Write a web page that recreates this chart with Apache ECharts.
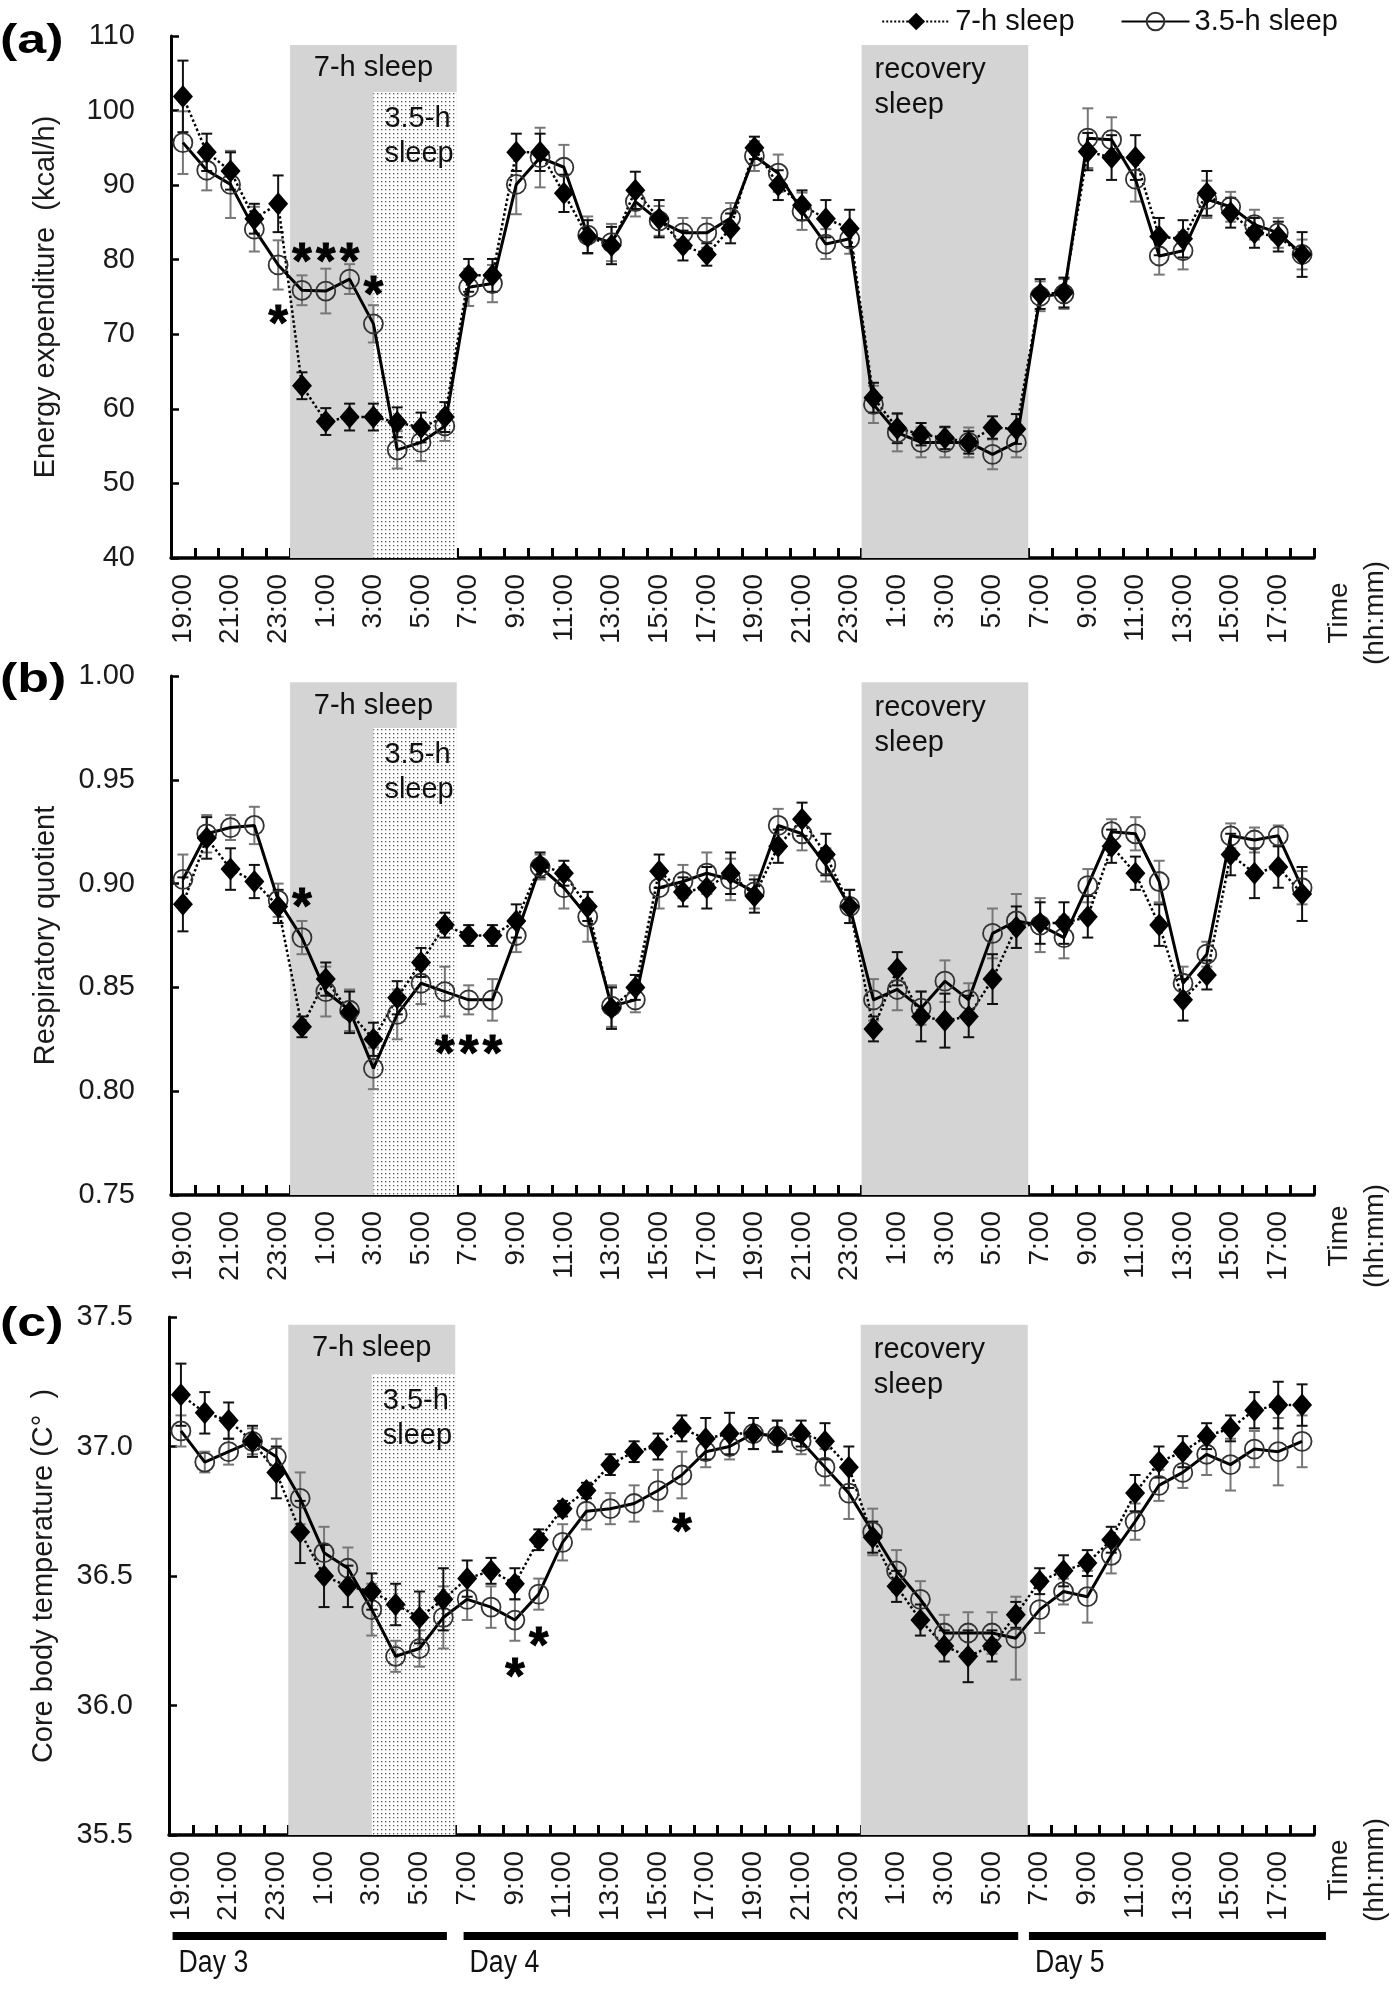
<!DOCTYPE html>
<html>
<head>
<meta charset="utf-8">
<script src="https://cdn.jsdelivr.net/npm/echarts@6/dist/echarts.min.js"></script>
<style>
  html, body { margin: 0; padding: 0; background: #fff; }
  #main { width: 1395px; height: 1990px; }
</style>
</head>
<body>
<div id="main"></div>
<script>
// hourly time points, 19:00 day 3 -> 18:00 day 5
const HOURS = ['19:00','20:00','21:00','22:00','23:00','0:00','1:00','2:00','3:00','4:00','5:00','6:00',
  '7:00','8:00','9:00','10:00','11:00','12:00','13:00','14:00','15:00','16:00','17:00','18:00',
  '19:00','20:00','21:00','22:00','23:00','0:00','1:00','2:00','3:00','4:00','5:00','6:00',
  '7:00','8:00','9:00','10:00','11:00','12:00','13:00','14:00','15:00','16:00','17:00','18:00'];

// (a) energy expenditure, kcal/h
const EE_7H = [101.9, 94.4, 91.9, 85.5, 87.5, 63.1, 58.3, 58.9, 58.9, 58.2, 57.5, 58.9,
  77.9, 77.9, 94.4, 94.4, 88.9, 83.1, 81.9, 89.3, 85.5, 81.9, 80.7, 84.2,
  95.0, 90.0, 87.3, 85.5, 84.2, 61.5, 57.4, 56.6, 56.1, 55.5, 57.5, 57.3,
  75.4, 75.6, 94.5, 93.7, 93.7, 83.1, 82.8, 88.9, 86.3, 83.6, 83.1, 80.7];
const EE_7H_SE = [4.8, 2.5, 2.5, 2, 3.8, 1.8, 1.8, 1.8, 1.8, 2, 2, 2,
  2.2, 2.2, 2.5, 2.5, 2.5, 2.2, 2.5, 2.5, 2.5, 2, 1.5, 2,
  1.5, 2, 2, 2.5, 2.5, 2, 2, 1.5, 1.5, 1.5, 1.5, 2,
  2, 2, 2.5, 3, 3, 2.5, 2.5, 3, 2, 2, 2, 3];
const EE_35H = [95.7, 92.0, 90.1, 84.1, 79.3, 75.9, 75.8, 77.4, 71.4, 54.5, 55.5, 57.7,
  76.3, 76.8, 90.1, 93.7, 92.4, 83.3, 82.3, 87.8, 85.2, 83.6, 83.6, 85.6,
  93.9, 91.6, 86.5, 82.1, 82.8, 60.6, 56.8, 55.5, 55.5, 55.5, 53.9, 55.5,
  75.1, 75.4, 96.3, 96.1, 90.8, 80.5, 81.2, 88.1, 87.1, 84.7, 83.6, 80.7];
const EE_35H_SE = [4.2, 2.7, 4.5, 3, 3.3, 2, 3, 2, 2.5, 2.5, 2.5, 2,
  2.5, 2.5, 4, 4, 3, 2.5, 2.5, 2, 2, 2, 2, 2,
  2, 2.5, 2.5, 2, 2, 2.5, 2.5, 2, 2, 2, 2, 2,
  2, 2, 4, 3, 3, 2.5, 2.5, 2.5, 2, 2, 2, 2];
const EE_STARS = [[4, 72.8], [5, 81.2], [6, 81.2], [7, 81.2], [8, 76.7]];

// (b) respiratory quotient
const RQ_7H = [0.890, 0.922, 0.907, 0.901, 0.889, 0.831, 0.854, 0.838, 0.825, 0.845, 0.862, 0.880,
  0.875, 0.875, 0.882, 0.909, 0.905, 0.889, 0.840, 0.850, 0.906, 0.896, 0.898, 0.905,
  0.894, 0.918, 0.931, 0.914, 0.889, 0.830, 0.859, 0.836, 0.834, 0.836, 0.854, 0.879,
  0.881, 0.881, 0.884, 0.918, 0.905, 0.880, 0.844, 0.856, 0.914, 0.905, 0.908, 0.895];
const RQ_7H_SE = [0.013, 0.01, 0.01, 0.008, 0.008, 0.005, 0.008, 0.01, 0.008, 0.008, 0.007, 0.006,
  0.005, 0.005, 0.008, 0.006, 0.006, 0.007, 0.01, 0.006, 0.008, 0.007, 0.01, 0.01,
  0.008, 0.008, 0.008, 0.01, 0.008, 0.006, 0.008, 0.012, 0.013, 0.01, 0.012, 0.01,
  0.01, 0.01, 0.01, 0.008, 0.008, 0.01, 0.01, 0.007, 0.01, 0.012, 0.01, 0.013];
const RQ_35H = [0.902, 0.924, 0.927, 0.928, 0.892, 0.874, 0.848, 0.839, 0.811, 0.837, 0.852, 0.848,
  0.844, 0.844, 0.875, 0.908, 0.898, 0.884, 0.841, 0.844, 0.898, 0.901, 0.905, 0.902,
  0.896, 0.928, 0.924, 0.909, 0.889, 0.844, 0.849, 0.840, 0.853, 0.844, 0.876, 0.882,
  0.880, 0.874, 0.899, 0.925, 0.924, 0.901, 0.852, 0.866, 0.923, 0.921, 0.923, 0.898];
const RQ_35H_SE = [0.012, 0.009, 0.006, 0.009, 0.008, 0.008, 0.012, 0.01, 0.01, 0.012, 0.01, 0.012,
  0.007, 0.01, 0.008, 0.006, 0.01, 0.012, 0.01, 0.006, 0.01, 0.008, 0.01, 0.01,
  0.008, 0.008, 0.008, 0.008, 0.008, 0.01, 0.01, 0.008, 0.01, 0.008, 0.012, 0.013,
  0.013, 0.01, 0.008, 0.006, 0.008, 0.01, 0.008, 0.006, 0.006, 0.006, 0.005, 0.008];
const RQ_STARS = [[5, 0.894], [11, 0.823], [12, 0.823], [13, 0.823]];

// (c) core body temperature
const CBT_7H = [37.20, 37.13, 37.10, 37.02, 36.90, 36.67, 36.50, 36.46, 36.44, 36.39, 36.34, 36.41,
  36.49, 36.52, 36.47, 36.64, 36.76, 36.83, 36.93, 36.98, 37.00, 37.07, 37.03, 37.05,
  37.05, 37.04, 37.05, 37.02, 36.92, 36.65, 36.46, 36.33, 36.23, 36.19, 36.23, 36.35,
  36.48, 36.52, 36.55, 36.64, 36.82, 36.94, 36.98, 37.04, 37.07, 37.14, 37.16, 37.16];
const CBT_7H_SE = [0.12, 0.08, 0.07, 0.06, 0.1, 0.12, 0.12, 0.08, 0.07, 0.08, 0.1, 0.12,
  0.07, 0.05, 0.06, 0.04, 0.03, 0.03, 0.04, 0.04, 0.05, 0.05, 0.08, 0.08,
  0.06, 0.06, 0.05, 0.07, 0.08, 0.06, 0.06, 0.06, 0.06, 0.1, 0.06, 0.05,
  0.05, 0.06, 0.05, 0.05, 0.07, 0.06, 0.06, 0.05, 0.05, 0.07, 0.09, 0.08];
const CBT_35H = [37.06, 36.94, 36.98, 37.02, 36.96, 36.80, 36.59, 36.53, 36.37, 36.19, 36.22, 36.34,
  36.41, 36.38, 36.33, 36.43, 36.63, 36.75, 36.76, 36.78, 36.83, 36.89, 36.98, 37.00,
  37.05, 37.04, 37.02, 36.92, 36.82, 36.67, 36.52, 36.41, 36.28, 36.28, 36.28, 36.26,
  36.37, 36.44, 36.42, 36.58, 36.71, 36.85, 36.90, 36.97, 36.93, 36.99, 36.98, 37.02];
const CBT_35H_SE = [0.06, 0.04, 0.05, 0.05, 0.07, 0.1, 0.1, 0.08, 0.1, 0.06, 0.07, 0.12,
  0.08, 0.08, 0.08, 0.06, 0.07, 0.07, 0.06, 0.07, 0.08, 0.09, 0.06, 0.05,
  0.06, 0.06, 0.05, 0.07, 0.1, 0.09, 0.08, 0.07, 0.07, 0.08, 0.08, 0.16,
  0.09, 0.05, 0.1, 0.07, 0.07, 0.06, 0.06, 0.08, 0.1, 0.07, 0.13, 0.1];
const CBT_STARS = [[14, 36.15], [15, 36.27], [21, 36.71]];

// sleep windows in hour-index units (7-h sleep, 3.5-h sleep, recovery sleep)
const SLEEP_WINDOWS = [[4.5, 11.5], [8, 11.5], [28.5, 35.5]];
const SLEEP_LABELS = ['7-h sleep', '3.5-h\nsleep', 'recovery\nsleep'];
const EE_SHADE_TOPS = [108.8, 102.5, 108.8];
const RQ_SHADE_TOPS = [0.997, 0.975, 0.997];
const CBT_SHADE_TOPS = [37.47, 37.28, 37.47];

const DAY_SPANS = [[-0.35, 11.15], [11.85, 35.1], [35.55, 48.0]];
const DAY_NAMES = ['Day 3', 'Day 4', 'Day 5'];

const FONT = '"Liberation Sans", Arial, sans-serif';
const GRAY = '#d4d4d4';

// dotted fill for the 3.5-h sleep window
const dots = document.createElement('canvas');
dots.width = 4; dots.height = 4;
let dc = dots.getContext('2d');
dc.fillStyle = '#fff'; dc.fillRect(0, 0, 4, 4);
dc.fillStyle = '#555'; dc.fillRect(1, 1, 1.3, 1.3);
const DOT_FILL = {image: dots, repeat: 'repeat'};

const panels = [
  {m7: EE_7H, e7: EE_7H_SE, m35: EE_35H, e35: EE_35H_SE, stars: EE_STARS, tops: EE_SHADE_TOPS,
   min: 40, max: 110, interval: 10, dec: 0, name: 'Energy expenditure  (kcal/h)',
   grid: {left: 171, top: 36, width: 1143, height: 522}},
  {m7: RQ_7H, e7: RQ_7H_SE, m35: RQ_35H, e35: RQ_35H_SE, stars: RQ_STARS, tops: RQ_SHADE_TOPS,
   min: 0.75, max: 1.0, interval: 0.05, dec: 2, name: 'Respiratory quotient',
   grid: {left: 171, top: 676, width: 1143, height: 519}},
  {m7: CBT_7H, e7: CBT_7H_SE, m35: CBT_35H, e35: CBT_35H_SE, stars: CBT_STARS, tops: CBT_SHADE_TOPS,
   min: 35.5, max: 37.5, interval: 0.5, dec: 1, name: 'Core body temperature (C\u00b0  )',
   grid: {left: 169, top: 1317, width: 1145, height: 518}}
];

function errBars(color) {
  return function (params, api) {
    const i = api.value(0), m = api.value(1), e = api.value(2);
    const hi = api.coord([i, m + e]), lo = api.coord([i, m - e]);
    const st = {stroke: color, lineWidth: 2};
    return {type: 'group', children: [
      {type: 'line', shape: {x1: hi[0], y1: hi[1], x2: lo[0], y2: lo[1]}, style: st},
      {type: 'line', shape: {x1: hi[0] - 5.5, y1: hi[1], x2: hi[0] + 5.5, y2: hi[1]}, style: st},
      {type: 'line', shape: {x1: lo[0] - 5.5, y1: lo[1], x2: lo[0] + 5.5, y2: lo[1]}, style: st}
    ]};
  };
}

function shading(p) {
  return function (params, api) {
    const j = params.dataIndex;
    const p0 = api.coord([api.value(0), api.value(2)]);
    const p1 = api.coord([api.value(1), p.min]);
    let tx, ty, align;
    if (j === 0) { tx = (p0[0] + p1[0]) / 2; ty = p0[1] + 6; align = 'center'; }
    else if (j === 1) { tx = p0[0] + 11; ty = p0[1] + 10; align = 'left'; }
    else { tx = p0[0] + 13; ty = p0[1] + 8; align = 'left'; }
    return {type: 'group', children: [
      {type: 'rect', shape: {x: p0[0], y: p0[1], width: p1[0] - p0[0], height: p1[1] - p0[1]},
       style: {fill: j === 1 ? DOT_FILL : GRAY}},
      {type: 'text', style: {text: SLEEP_LABELS[j], x: tx, y: ty, align: align, verticalAlign: 'top',
       font: '29px ' + FONT, lineHeight: 35, fill: '#111'}}
    ]};
  };
}

function starMarks(params, api) {
  const p = api.coord([api.value(0), api.value(1)]);
  return {type: 'text', style: {text: '*', x: p[0], y: p[1] + 13, align: 'center', verticalAlign: 'middle',
    font: 'bold 50px ' + FONT, fill: '#000', stroke: '#000', lineWidth: 1}};
}

const xAxes = [], yAxes = [], series = [], grids = [];
panels.forEach((p, k) => {
  grids.push(p.grid);
  xAxes.push({
    type: 'category', gridIndex: k, data: HOURS, boundaryGap: true,
    axisLine: {onZero: false, lineStyle: {color: '#000', width: 3.5}},
    axisTick: {show: true, inside: true, length: 10, interval: 0, lineStyle: {color: '#000', width: 3}},
    axisLabel: {interval: 1, rotate: 90, margin: 16, fontSize: 28, fontFamily: FONT, color: '#1a1a1a'},
    splitLine: {show: false}
  });
  xAxes.push({type: 'value', gridIndex: k, min: -0.5, max: 47.5, show: false});
  yAxes.push({
    type: 'value', gridIndex: k, min: p.min, max: p.max, interval: p.interval,
    name: p.name, nameLocation: 'middle', nameGap: 111,
    nameTextStyle: {fontSize: 29, fontFamily: FONT, color: '#1a1a1a'},
    axisLine: {show: true, onZero: false, lineStyle: {color: '#000', width: 3}},
    axisTick: {show: true, inside: true, length: 8, lineStyle: {color: '#000', width: 2.5}},
    axisLabel: {margin: 36, fontSize: 29, fontFamily: FONT, color: '#1a1a1a',
      formatter: v => v.toFixed(p.dec)},
    splitLine: {show: false}
  });

  series.push({
    type: 'custom', xAxisIndex: 2 * k + 1, yAxisIndex: k, z: 1, silent: true,
    renderItem: shading(p),
    data: SLEEP_WINDOWS.map((w, j) => [w[0], w[1], p.tops[j]])
  });
  series.push({
    type: 'custom', xAxisIndex: 2 * k, yAxisIndex: k, z: 2, silent: true,
    renderItem: errBars('#777'), encode: {x: 0, y: 1},
    data: p.m35.map((m, i) => [i, m, p.e35[i]])
  });
  series.push({
    type: 'custom', xAxisIndex: 2 * k, yAxisIndex: k, z: 2, silent: true,
    renderItem: errBars('#111'), encode: {x: 0, y: 1},
    data: p.m7.map((m, i) => [i, m, p.e7[i]])
  });
  series.push({
    name: '3.5-h sleep', type: 'line', xAxisIndex: 2 * k, yAxisIndex: k, z: 3,
    data: p.m35, symbol: 'circle', symbolSize: 19, showAllSymbol: true,
    itemStyle: {color: 'rgba(255,255,255,0)', borderColor: '#333', borderWidth: 1.8},
    lineStyle: {color: '#000', width: 3}
  });
  series.push({
    name: '7-h sleep', type: 'line', xAxisIndex: 2 * k, yAxisIndex: k, z: 3,
    data: p.m7, symbol: 'diamond', symbolSize: [20, 23], showAllSymbol: true,
    itemStyle: {color: '#000'},
    lineStyle: {color: '#000', width: 2.5, type: 'dotted'}
  });
  series.push({
    type: 'custom', xAxisIndex: 2 * k, yAxisIndex: k, z: 4, silent: true,
    renderItem: starMarks, encode: {x: 0, y: 1}, data: p.stars
  });
});

// day bars under panel (c)
grids.push({left: 169, top: 1932, width: 1145, height: 40});
xAxes.push({type: 'value', gridIndex: 3, min: -0.5, max: 47.5, show: false});
yAxes.push({type: 'value', gridIndex: 3, min: 0, max: 1, show: false});
series.push({
  type: 'custom', xAxisIndex: 6, yAxisIndex: 3, silent: true,
  renderItem: function (params, api) {
    const a = api.coord([api.value(0), 1]), b = api.coord([api.value(1), 1]);
    return {type: 'group', children: [
      {type: 'rect', shape: {x: a[0], y: a[1], width: b[0] - a[0], height: 8}, style: {fill: '#000'}},
      {type: 'text', x: a[0] + 6, y: a[1] + 16, scaleX: 0.86,
       style: {text: DAY_NAMES[params.dataIndex], x: 0, y: 0,
        verticalAlign: 'top', font: '31px ' + FONT, fill: '#111'}}
    ]};
  },
  data: DAY_SPANS
});

const timeLabelY = [613, 1236, 1870];
const letterY = [22, 661, 1305];
const graphics = [];
['(a)', '(b)', '(c)'].forEach((t, k) => {
  graphics.push({type: 'text', left: 0, top: letterY[k], scaleX: 1.3,
    style: {text: t, font: 'bold 40px ' + FONT, fill: '#000'}});
  graphics.push({type: 'text', x: 1357, y: timeLabelY[k], rotation: Math.PI / 2,
    style: {text: 'Time\n(hh:mm)', align: 'center', verticalAlign: 'middle', lineHeight: 36,
      font: '28px ' + FONT, fill: '#1a1a1a'}});
});

const chart = echarts.init(document.getElementById('main'));
chart.setOption({
  animation: false,
  backgroundColor: '#fff',
  legend: {
    data: ['7-h sleep', '3.5-h sleep'], right: 52, top: 2, selectedMode: false,
    itemWidth: 68, itemHeight: 22, itemGap: 46,
    textStyle: {fontSize: 29, fontFamily: FONT, color: '#111'}
  },
  grid: grids,
  xAxis: xAxes,
  yAxis: yAxes,
  series: series,
  graphic: graphics
});
</script>
</body>
</html>
